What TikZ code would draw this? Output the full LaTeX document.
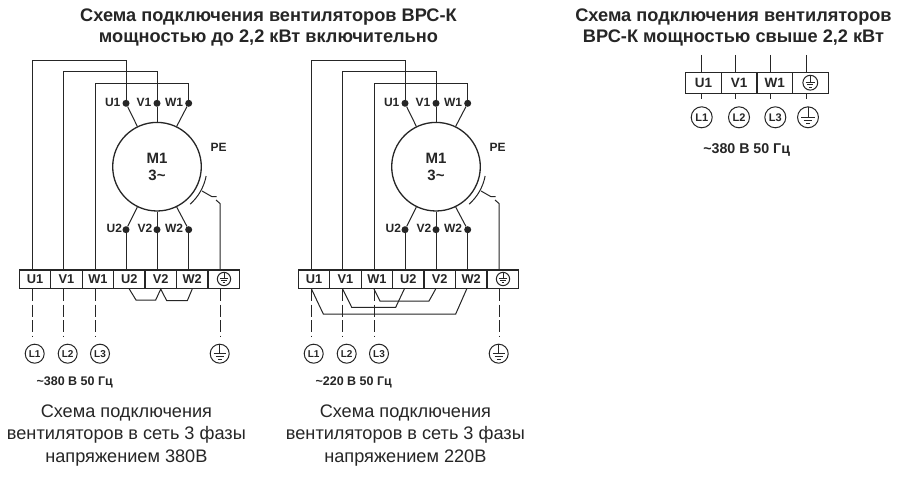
\documentclass[tikz,border=0pt]{standalone}
\usepackage{fontspec}
\setmainfont{Liberation Sans}
\definecolor{ink}{HTML}{262626}
\tikzset{
  x=1pt,y=-1pt,
  wire/.style={draw=ink,line width=1pt,line join=miter},
  dashwire/.style={draw=ink,line width=1pt,dash pattern=on 12pt off 3.5pt},
  cell/.style={draw=ink,line width=1.3pt,rectangle,minimum height=18.5pt,inner sep=0pt,font=\fontsize{12.8}{14}\selectfont\bfseries,text=ink},
  cellbig/.style={cell,minimum height=21pt,font=\fontsize{13.5}{14}\selectfont\bfseries},
  dotnode/.style={circle,fill=ink,draw=none,minimum size=7pt,inner sep=0pt},
  motor/.style={circle,draw=ink,line width=1.3pt,minimum size=88.6pt,inner sep=0pt,align=center,text=ink,font=\fontsize{15}{17.5}\selectfont\bfseries},
  lbl/.style={inner sep=0pt,text=ink,font=\fontsize{12}{13}\selectfont\bfseries},
  voltlbl/.style={inner sep=0pt,text=ink,font=\fontsize{12.5}{13}\selectfont\bfseries},
  voltbig/.style={voltlbl,font=\fontsize{14.2}{15}\selectfont\bfseries},
  lcirc/.style={circle,draw=ink,line width=1pt,minimum size=19pt,inner sep=0pt,text=ink,font=\fontsize{10}{11}\selectfont\bfseries},
  lcircbig/.style={lcirc,minimum size=21pt,font=\fontsize{11}{12}\selectfont\bfseries},
  title/.style={inner sep=0pt,text=ink,align=center,font=\fontsize{18.2}{21.5}\selectfont\bfseries},
  caption/.style={inner sep=0pt,text=ink,align=center,font=\fontsize{18.15}{22.3}\selectfont},
  pics/earthmark/.style={code={
    \draw[draw=ink,line width=1pt] (0,0) circle (9.5);
    \draw[draw=ink,line width=1pt] (0,-9.5) -- (0,0) (-6,0) -- (6,0) (-4,2.8) -- (4,2.8) (-1.8,5.7) -- (1.8,5.7);
  }}
}
\newcommand{\ventpanel}[3]{%
\begin{scope}[xshift=#2pt]
  \node[motor] (#1m) at (157,166.7) {M1\\3\textasciitilde};
  \node[dotnode] (#1dU1) at (126,103.3) {};
  \node[dotnode] (#1dV1) at (157,103.3) {};
  \node[dotnode] (#1dW1) at (188.7,103.3) {};
  \node[dotnode] (#1dU2) at (126,229.7) {};
  \node[dotnode] (#1dV2) at (157,229.7) {};
  \node[dotnode] (#1dW2) at (188.7,229.7) {};
  \node[lbl] (#1lU1) at (112.7,102) {U1};
  \node[lbl] (#1lV1) at (144,102) {V1};
  \node[lbl] (#1lW1) at (174,102) {W1};
  \node[lbl] (#1lU2) at (114.3,228.7) {U2};
  \node[lbl] (#1lV2) at (145,228.7) {V2};
  \node[lbl] (#1lW2) at (174,228.7) {W2};
  \node[lbl] (#1lPE) at (218.7,147) {PE};
  \foreach \n/\t/\x in {U1/U1/35,V1/V1/66.45,W1/W1/97.9,U2/U2/129.3,V2/V2/160.75,W2/W2/192.2,PE//223.6}
    \node[cell,minimum width=31.43pt] (#1\n) at (\x,279.15) {\t};
  \pic[scale=0.7] at (224,279) {earthmark};
  \coordinate (#1o1) at (32.5,60.7);
  \coordinate (#1o2) at (63.7,72);
  \coordinate (#1o3) at (95,84);
  \coordinate (#1e1) at (32.5,335.7);
  \coordinate (#1e2) at (63.7,335.7);
  \coordinate (#1e3) at (95,335.7);
  \coordinate (#1e4) at (220,335.7);
  \draw[wire] (#1dU1) |- (#1o1) -- (#1o1 |- #1U1.north);
  \draw[wire] (#1dV1) |- (#1o2) -- (#1o2 |- #1V1.north);
  \draw[wire] (#1dW1) |- (#1o3) -- (#1o3 |- #1W1.north);
  \draw[wire] (#1dU1) -- (#1m.116);
  \draw[wire] (#1dV1) -- (#1m.90);
  \draw[wire] (#1dW1) -- (#1m.64);
  \draw[wire] (#1m.-116) -- (#1dU2);
  \draw[wire] (#1m.-64) -- (#1dW2);
  \draw[wire] (#1m.-90) -- (#1V2.north -| #1m);
  \draw[wire] (#1dU2) -- (#1dU2 |- #1U2.north);
  \draw[wire] (#1dW2) -- (#1dW2 |- #1W2.north);
  % PE contact
  \draw[wire] (#1m.center) ++(-10.7:50pt) arc[start angle=-10.7,end angle=-48.5,radius=50pt];
  \draw[wire] (202,191) -- (212,196.7) -- (216.7,196.7);
  \draw[wire] (216,200) -- (220,203.5) -- (#1e4 |- #1PE.north);
  % supply
  \draw[dashwire] (#1e1 |- #1U1.south) -- (#1e1);
  \draw[dashwire] (#1e2 |- #1V1.south) -- (#1e2);
  \draw[dashwire] (#1e3 |- #1W1.south) -- (#1e3);
  \draw[dashwire] (#1e4 |- #1PE.south) -- (#1e4);
  \node[lcirc] (#1L1) at (34.7,353.7) {L1};
  \node[lcirc] (#1L2) at (67.7,353.7) {L2};
  \node[lcirc] (#1L3) at (100,353.7) {L3};
  \pic at (219.7,353.7) {earthmark};
  \node[voltlbl] (#1volt) at (74.7,382.7) {\textasciitilde#3 В 50 Гц};
  \node[caption] (#1cap) at (126.4,435.5) {Схема подключения\\вентиляторов в сеть 3 фазы\\напряжением #3В};
\end{scope}}
\begin{document}
\begin{tikzpicture}
\useasboundingbox (0,0) rectangle (900,481);
\fill[white] (0,0) rectangle (900,481);
\node[title] (t1) at (268.5,27.5) {Схема подключения вентиляторов ВРС-К\\мощностью до 2,2 кВт включительно};
\node[title] (t2) at (733.5,27.5) {Схема подключения вентиляторов\\ВРС-К мощностью свыше 2,2 кВт};
\ventpanel{a}{0}{380}
\ventpanel{b}{279}{220}
% star bridges, first panel
\draw[wire] (aU2.south) -- (136,300) -- (155.7,300) -- (aV2.south) -- (166.7,300.7) -- (187.3,300.7) -- (aW2.south);
% delta bridges, second panel
\draw[wire] (bU1.south -| be1) -- (323.3,314) -- (455.7,314) -- (466.7,289);
\draw[wire] (bV1.south -| be2) -- (351.7,307.3) -- (395.7,307.3) -- (404.3,289);
\draw[wire] (bW1.south -| be3) -- (380,301) -- (429,301) -- (435.7,289);
% third panel
\foreach \n/\t/\x in {U1/U1/703.5,V1/V1/739.15,W1/W1/774.8,PE//810.45}
  \node[cellbig,minimum width=35.65pt] (c\n) at (\x,82.8) {\t};
\pic[scale=0.78] at (810.3,82.7) {earthmark};
\foreach \n/\x in {U1/701.7,V1/735.7,W1/770.7,PE/806.7}{
  \coordinate (cu\n) at (\x,55);
  \coordinate (cd\n) at (\x,99.3);
  \draw[wire] (cu\n) -- (cu\n |- c\n.north);
  \draw[wire] (cd\n |- c\n.south) -- (cd\n);
}
\node[lcircbig] (cL1) at (701.7,117.3) {L1};
\node[lcircbig] (cL2) at (739,117.3) {L2};
\node[lcircbig] (cL3) at (775.3,117.3) {L3};
\pic[scale=1.1] at (808,117.3) {earthmark};
\node[voltbig] (cvolt) at (746.7,150) {\textasciitilde380 В 50 Гц};
\end{tikzpicture}
\end{document}
